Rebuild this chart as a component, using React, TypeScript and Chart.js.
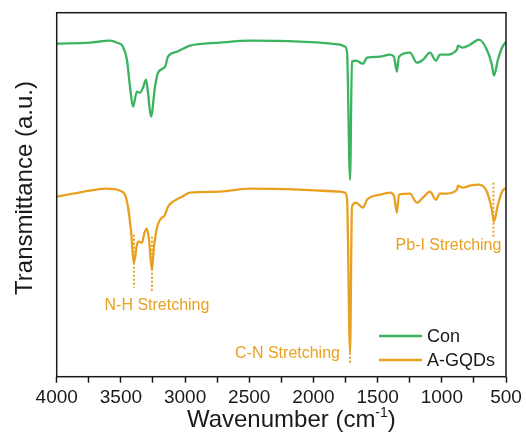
import React, { useEffect, useRef } from "react";
import { Chart, registerables } from "chart.js";

Chart.register(...registerables);

// ---- data (wavenumber in cm^-1, transmittance in arbitrary units) ----
const conWavenumber = [
  4000, 3741, 3585, 3530, 3484, 3453, 3429, 3406, 3375, 3351, 3328, 3304, 3289, 3266, 3234, 3211,
  3156, 3133, 3063, 3016, 2962, 2728, 2494, 2105, 1793, 1754, 1738, 1715, 1700, 1669, 1614, 1583,
  1482, 1404, 1373, 1350, 1334, 1248, 1194, 1147, 1092, 1046, 1015, 976, 882, 875, 836, 781, 711,
  649, 610, 594, 563, 531, 500,
];
const conValues = [
  333, 334, 336, 334, 330, 317, 290, 270, 285, 284, 289, 297, 284, 260, 290, 304,
  310, 320, 325, 328, 331, 334, 336, 335, 332, 330, 324, 197, 315, 316, 313, 319,
  320, 322, 320, 305, 320, 324, 314, 317, 324, 316, 322, 322, 327, 331, 329, 332, 337,
  327, 312, 301, 317, 329, 335,
];
const gqdWavenumber = [
  4000, 3873, 3741, 3608, 3507, 3468, 3445, 3422, 3398, 3375, 3359, 3336, 3316, 3297, 3281, 3258,
  3242, 3219, 3195, 3156, 3133, 3094, 3024, 2962, 2728, 2494, 2105, 1793, 1754, 1738, 1715, 1700,
  1669, 1614, 1583, 1482, 1404, 1373, 1350, 1334, 1248, 1194, 1147, 1092, 1046, 1015, 976, 882,
  875, 836, 781, 711, 649, 610, 594, 563, 531, 500,
];
const gqdValues = [
  180, 183, 186, 188, 186, 182, 170, 147, 114, 132, 135, 134, 144, 148, 137, 107,
  130, 149, 157, 162, 170, 175, 180, 184, 185, 188, 187, 185, 184, 177, 24, 170,
  174, 169, 177, 182, 184, 181, 164, 182, 183, 174, 179, 185, 177, 183, 183, 187,
  191, 189, 191, 192, 185, 167, 155, 172, 185, 189,
];
const seriesNames = ["Con", "A-GQDs"];

// peak markers (dotted): wavenumber, top value, bottom value
const markerWavenumber = [3398, 3258, 1715, 598];
const markerTop = [142, 140, 40, 194];
const markerBottom = [89, 85, 14, 140];

// annotation texts and their anchor in data units
const noteTexts = ["N-H Stretching", "C-N Stretching", "Pb-I Stretching"];
const noteWavenumber = [3219, 2202, 948];
const noteValue = [71, 23, 131];

const xTickValues = [4000, 3500, 3000, 2500, 2000, 1500, 1000, 500];

const GREEN = "#3BB35F";
const ORANGE = "#E8A020";
const FONT = "'Liberation Sans', Arial, sans-serif";

export default function App() {
  const ref = useRef<HTMLCanvasElement | null>(null);

  useEffect(() => {
    document.body.style.margin = "0";
    const canvas = ref.current;
    if (!canvas) return;

    const markerSets = markerWavenumber.map((w, i) => ({
      label: "__marker" + i,
      data: [
        { x: w, y: markerTop[i] },
        { x: w, y: markerBottom[i] },
      ],
      borderColor: ORANGE,
      borderWidth: 2,
      borderDash: [2, 2],
      pointRadius: 0,
      fill: false,
    }));

    const framePlugin = {
      id: "frameAndText",
      afterDatasetsDraw(chart: any) {
        const { ctx, chartArea } = chart;
        const xs = chart.scales.x;
        const ys = chart.scales.y;
        ctx.save();
        // annotations
        ctx.fillStyle = ORANGE;
        ctx.font = `16px ${FONT}`;
        ctx.textAlign = "center";
        ctx.textBaseline = "middle";
        noteTexts.forEach((t, i) => {
          ctx.fillText(t, xs.getPixelForValue(noteWavenumber[i]), ys.getPixelForValue(noteValue[i]));
        });
        // legend
        const colors = [GREEN, ORANGE];
        const legendY = [336, 360];
        ctx.font = `18px ${FONT}`;
        ctx.textAlign = "left";
        seriesNames.forEach((n, i) => {
          ctx.strokeStyle = colors[i];
          ctx.lineWidth = 2.5;
          ctx.beginPath();
          ctx.moveTo(379, legendY[i]);
          ctx.lineTo(422, legendY[i]);
          ctx.stroke();
          ctx.fillStyle = "#1a1a1a";
          ctx.fillText(n, 427, legendY[i] + 1);
        });
        // frame
        ctx.strokeStyle = "#1a1a1a";
        ctx.lineWidth = 1.5;
        ctx.strokeRect(chartArea.left, chartArea.top, chartArea.right - chartArea.left, chartArea.bottom - chartArea.top);
        // axis titles
        ctx.fillStyle = "#1a1a1a";
        ctx.textBaseline = "alphabetic";
        const main = "Wavenumber (cm";
        const sup = "-1";
        const close = ")";
        ctx.font = `24px ${FONT}`;
        const wMain = ctx.measureText(main).width;
        const wClose = ctx.measureText(close).width;
        ctx.font = `14px ${FONT}`;
        const wSup = ctx.measureText(sup).width;
        const total = wMain + wSup + wClose;
        const cx = (chartArea.left + chartArea.right) / 2 + 10;
        const x0 = cx - total / 2;
        const base = 427;
        ctx.textAlign = "left";
        ctx.font = `24px ${FONT}`;
        ctx.fillText(main, x0, base);
        ctx.font = `14px ${FONT}`;
        ctx.fillText(sup, x0 + wMain, base - 10);
        ctx.font = `24px ${FONT}`;
        ctx.fillText(close, x0 + wMain + wSup, base);
        // y title
        ctx.translate(25, 188);
        ctx.rotate(-Math.PI / 2);
        ctx.textAlign = "center";
        ctx.textBaseline = "middle";
        ctx.font = `24px ${FONT}`;
        ctx.fillText("Transmittance (a.u.)", 0, 0);
        ctx.restore();
      },
    };

    const chart = new Chart(canvas, {
      type: "line",
      data: {
        datasets: [
          {
            label: seriesNames[0],
            data: conWavenumber.map((w, i) => ({ x: w, y: conValues[i] })),
            borderColor: GREEN,
            borderWidth: 2.3,
            pointRadius: 0,
            cubicInterpolationMode: "monotone",
            fill: false,
          },
          {
            label: seriesNames[1],
            data: gqdWavenumber.map((w, i) => ({ x: w, y: gqdValues[i] })),
            borderColor: ORANGE,
            borderWidth: 2.3,
            pointRadius: 0,
            cubicInterpolationMode: "monotone",
            fill: false,
          },
          ...markerSets,
        ] as any,
      },
      options: {
        animation: false,
        responsive: false,
        maintainAspectRatio: false,
        layout: { padding: { top: 12.7, right: 20, left: 0, bottom: 0 } },
        plugins: {
          legend: { display: false },
          tooltip: { enabled: false },
        },
        scales: {
          x: {
            type: "linear",
            reverse: true,
            min: 500,
            max: 4000,
            afterBuildTicks(axis: any) {
              const t: any[] = [];
              for (let v = 500; v <= 4000; v += 250) t.push({ value: v });
              axis.ticks = t;
            },
            afterFit(axis: any) {
              axis.height = 441 - 376.7;
            },
            ticks: {
              autoSkip: false,
              maxRotation: 0,
              padding: 4,
              color: "#1a1a1a",
              font: { family: FONT, size: 19 },
              callback: (v: any) => (xTickValues.includes(Number(v)) ? String(v) : ""),
            },
            grid: {
              drawOnChartArea: false,
              drawTicks: true,
              tickLength: 6,
              tickColor: "#1a1a1a",
              tickWidth: 1.5,
            },
            border: { display: false },
          },
          y: {
            type: "linear",
            min: 0,
            max: 364,
            afterFit(axis: any) {
              axis.width = 56.7;
            },
            ticks: { display: false },
            grid: { display: false, drawTicks: false },
            border: { display: false },
          },
        },
      },
      plugins: [framePlugin],
    });

    return () => chart.destroy();
  }, []);

  return (
    <div style={{ width: 526, height: 441, background: "#fff" }}>
      <canvas ref={ref} width={526} height={441} style={{ display: "block" }} />
    </div>
  );
}
